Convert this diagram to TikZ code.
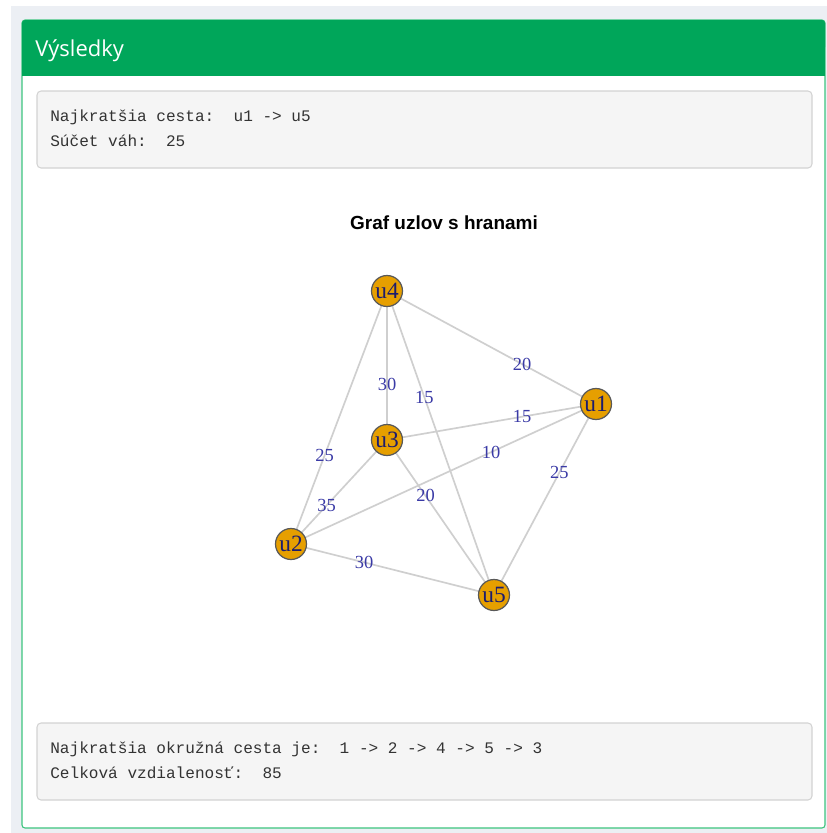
\documentclass[tikz,border=0pt]{standalone}
\usepackage{fontspec}
\setmainfont{Liberation Serif}
\setmonofont{Liberation Mono}
\newfontfamily\headfont{Open Sans}
\newfontfamily\titlefont{Liberation Sans}
\usetikzlibrary{positioning}
\definecolor{pagebg}{HTML}{ECEFF4}
\definecolor{boxgreen}{HTML}{00A65A}
\definecolor{cardline}{HTML}{3DC47E}
\definecolor{wellbg}{HTML}{F5F5F5}
\definecolor{wellline}{HTML}{D3D3D3}
\definecolor{vfill}{HTML}{E69F00}
\definecolor{vtext}{HTML}{1C1C6E}
\definecolor{etext}{HTML}{3A3AA6}
\definecolor{eline}{HTML}{CFCFCF}
\pgfdeclarelayer{bg}
\pgfdeclarelayer{edges}
\pgfsetlayers{bg,edges,main}

\begin{document}
\begin{tikzpicture}[x=0.02cm,y=-0.02cm,
  vert/.style={circle,draw=black!65,line width=0.7pt,fill=vfill,minimum size=0.62cm,
    inner sep=0pt,text=vtext,font=\fontsize{13.3}{13.3}\selectfont},
  wlab/.style={text=etext,font=\fontsize{10.5}{10.5}\selectfont,inner sep=0pt},
  edge/.style={draw=eline,line width=0.95pt},
  mono/.style={anchor=base west,inner sep=0pt,text=black!80,
    font=\ttfamily\fontsize{9.15}{9.15}\selectfont},
  well/.style={draw=wellline,fill=wellbg,line width=0.6pt,rounded corners=2.3pt}]
\useasboundingbox (0,0) rectangle (827,833);
% ---------- page and card ----------
\begin{pgfonlayer}{bg}
  \fill[white] (0,0) rectangle (827,833);
  \fill[pagebg] (11,6) rectangle (827,833);
  \draw[cardline,fill=white,line width=0.6pt,rounded corners=1.7pt] (22,20) rectangle (825,828);
  \fill[boxgreen,rounded corners=1.7pt] (22,20) rectangle (825,50);
  \fill[boxgreen] (22,40) rectangle (825,76);
  \draw[well] (37,91) rectangle (812,168);
  \draw[well] (37,723) rectangle (812,800);
\end{pgfonlayer}
\node[anchor=base west,inner sep=0pt,text=white,font=\headfont\fontsize{12.5}{12.5}\selectfont]
  (head) at (35,56) {Výsledky};
% result lines
\node[mono] (path) at (50,121) {Najkratšia cesta:~~u1 -> u5};
\node[mono] (sum) at (50,146) {Súčet váh:~~25};
\node[mono] (tour) at (50,753) {Najkratšia okružná cesta je:~~1 -> 2 -> 4 -> 5 -> 3};
\node[mono] (dist) at (50,778) {Celková vzdialenosť:~~85};
% ---------- graph ----------
\node[anchor=base,inner sep=0pt,font=\titlefont\bfseries\fontsize{10.8}{10.8}\selectfont]
  (title) at (444,229) {Graf uzlov s hranami};
\node[vert] (u4) at (387,291) {u4};
\node[vert] (u1) at (596,404) {u1};
\node[vert] (u3) at (387,440) {u3};
\node[vert] (u2) at (291,544) {u2};
\node[vert] (u5) at (494,595) {u5};
\begin{pgfonlayer}{edges}
  \foreach \a/\b/\w/\p in {u4/u1/20/0.646, u4/u3/30/0.63, u4/u2/25/0.65, u4/u5/15/0.35,
      u3/u1/15/0.646, u2/u1/10/0.656, u1/u5/25/0.36, u3/u2/35/0.63, u3/u5/20/0.36,
      u2/u5/30/0.36}
    \draw[edge] (\a.center) -- (\b.center) node[pos=\p,wlab]{\w};
\end{pgfonlayer}
\end{tikzpicture}
\end{document}
